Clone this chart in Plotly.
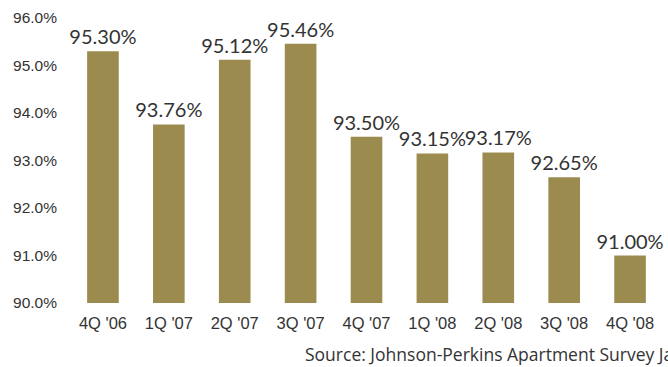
import plotly.graph_objects as go

quarters = ["4Q '06", "1Q '07", "2Q '07", "3Q '07", "4Q '07", "1Q '08", "2Q '08", "3Q '08", "4Q '08"]
occupancy = [95.30, 93.76, 95.12, 95.46, 93.50, 93.15, 93.17, 92.65, 91.00]
y_ticks = [90, 91, 92, 93, 94, 95, 96]
y_tick_labels = ["90.0%", "91.0%", "92.0%", "93.0%", "94.0%", "95.0%", "96.0%"]
source_text = "Source: Johnson-Perkins Apartment Survey January 2009"

fig = go.Figure(go.Bar(
    x=quarters,
    y=occupancy,
    marker=dict(color="#9C8B4F", line=dict(width=0)),
    text=[f"{v:.2f}%" for v in occupancy],
    textposition="outside",
    constraintext="none",
    cliponaxis=False,
    textfont=dict(family="Lato, Liberation Sans, sans-serif", size=20, color="#333333"),
))

fig.update_layout(
    width=668, height=367,
    margin=dict(l=70, r=5, t=18, b=64),
    paper_bgcolor="white", plot_bgcolor="white",
    bargap=0.52,
    showlegend=False,
    font=dict(family="Liberation Sans, Arial, sans-serif", size=15, color="#333333"),
    xaxis=dict(showgrid=False, showline=False, zeroline=False, ticks="",
               ticklabelstandoff=8, tickfont=dict(size=16.5, color="#333333")),
    yaxis=dict(range=[90, 96], tickvals=y_ticks, ticktext=y_tick_labels,
               showgrid=False, showline=False, zeroline=False, ticks="",
               ticklabelstandoff=12, tickfont=dict(size=15.5, color="#333333")),
    annotations=[dict(text=source_text, xref="paper", yref="paper", x=(303 - 70) / 593, y=-0.13,
                      xanchor="left", yanchor="top", showarrow=False,
                      font=dict(family="Open Sans, sans-serif", size=17.5, color="#333333"))],
)

fig.write_html("out.html")
